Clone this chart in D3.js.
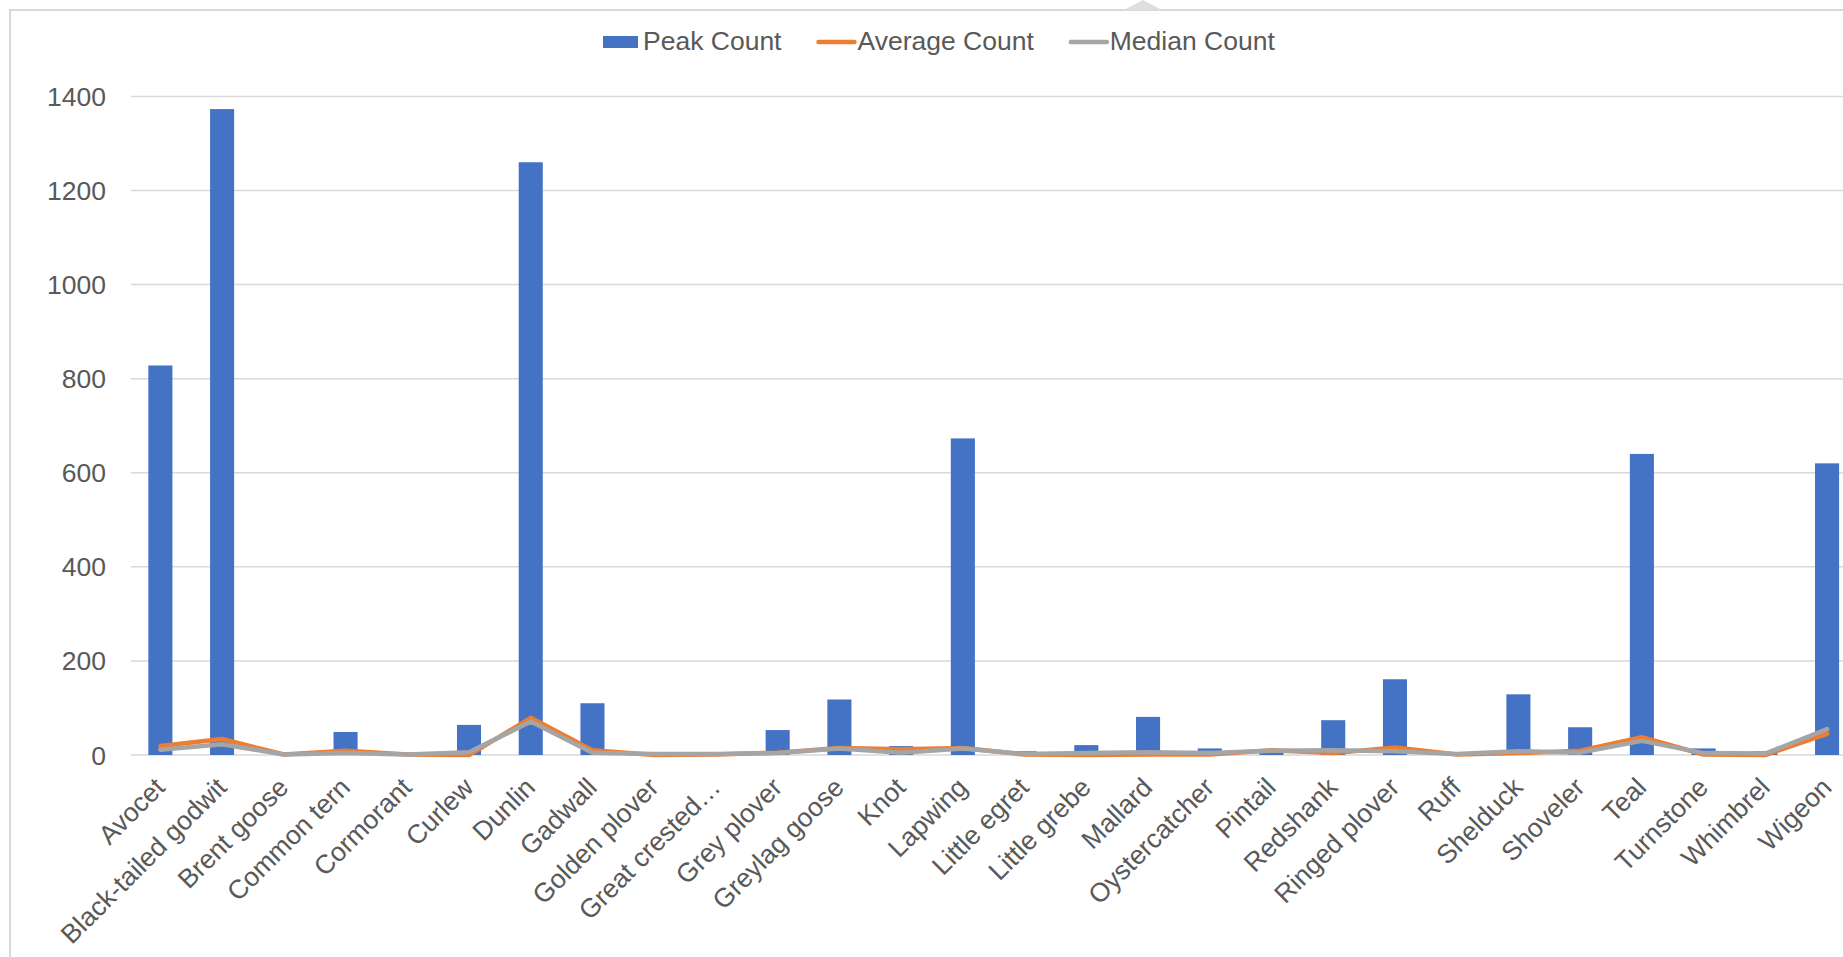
<!DOCTYPE html>
<html>
<head>
    <title>Bird counts</title>
    <script src="https://cdn.jsdelivr.net/npm/d3@7"></script>
    <style>
        body { margin: 0; background: #fff; overflow: hidden; }
        text { font-family: "Liberation Sans", Arial, sans-serif; fill: #595959; }
    </style>
</head>
<body>
    <div id="chart"></div>

    <script>
        // Chart data
        var categories = ["Avocet", "Black-tailed godwit", "Brent goose", "Common tern", "Cormorant",
            "Curlew", "Dunlin", "Gadwall", "Golden plover", "Great crested\u2026", "Grey plover",
            "Greylag goose", "Knot", "Lapwing", "Little egret", "Little grebe", "Mallard",
            "Oystercatcher", "Pintail", "Redshank", "Ringed plover", "Ruff", "Shelduck",
            "Shoveler", "Teal", "Turnstone", "Whimbrel", "Wigeon"];
        var peakCount = [828, 1373, 2, 49, 1, 64, 1260, 110, 2, 2, 53, 118, 19, 673, 8, 21, 81,
            14, 12, 74, 161, 2, 129, 59, 640, 14, 8, 620];
        var averageCount = [19, 34, 1, 9, 1, 0, 79, 10, 0, 1, 5, 15, 12, 15, 1, 0, 1,
            1, 10, 4, 16, 1, 4, 9, 38, 1, 0, 45];
        var medianCount = [11, 23, 1, 4, 1, 6, 71, 5, 2, 2, 4, 14, 5, 14, 2, 4, 6,
            4, 9, 10, 8, 2, 8, 5, 30, 4, 3, 55];
        var yTicks = [0, 200, 400, 600, 800, 1000, 1200, 1400];
        var seriesNames = ["Peak Count", "Average Count", "Median Count"];

        var width = 1843, height = 957;
        var fontSize = 26.5;

        var svg = d3.select("#chart").append("svg")
            .attr("width", width)
            .attr("height", height);

        // frame of the chart area (right and bottom edges are off screen)
        svg.append("path")
            .attr("d", "M10,957 V10 H1843")
            .attr("fill", "none")
            .attr("stroke", "#d9d9d9")
            .attr("stroke-width", 2);
        svg.append("path")
            .attr("d", "M1124,10 L1143,0 L1162,10 Z")
            .attr("fill", "#dedede");

        var plotLeft = 129.5, step = 61.73;
        var x = d3.scaleBand()
            .domain(categories)
            .range([plotLeft, plotLeft + step * categories.length])
            .paddingInner(0.61)
            .paddingOuter(0.305);

        var y = d3.scaleLinear()
            .domain([0, 1400])
            .range([755, 96.4]);

        // gridlines
        svg.append("g")
            .selectAll("line")
            .data(yTicks)
            .enter().append("line")
            .attr("x1", 131)
            .attr("x2", width)
            .attr("y1", d => y(d))
            .attr("y2", d => y(d))
            .attr("stroke", "#d9d9d9")
            .attr("stroke-width", 1.5);

        // y axis labels
        svg.append("g")
            .selectAll("text")
            .data(yTicks)
            .enter().append("text")
            .attr("x", 106)
            .attr("y", d => y(d))
            .attr("dy", "0.36em")
            .attr("text-anchor", "end")
            .style("font-size", fontSize + "px")
            .text(d => d);

        // bars
        svg.append("g")
            .selectAll("rect")
            .data(peakCount)
            .enter().append("rect")
            .attr("x", (d, i) => x(categories[i]))
            .attr("width", x.bandwidth())
            .attr("y", d => y(d))
            .attr("height", d => y(0) - y(d))
            .attr("fill", "#4472c4");

        var cx = d => x(d) + x.bandwidth() / 2;

        var line = d3.line()
            .x((d, i) => cx(categories[i]))
            .y(d => y(d));

        svg.append("path")
            .datum(averageCount)
            .attr("d", line)
            .attr("fill", "none")
            .attr("stroke", "#ed7d31")
            .attr("stroke-width", 4.5)
            .attr("stroke-linejoin", "round")
            .attr("stroke-linecap", "round");

        svg.append("path")
            .datum(medianCount)
            .attr("d", line)
            .attr("fill", "none")
            .attr("stroke", "#a5a5a5")
            .attr("stroke-width", 4.5)
            .attr("stroke-linejoin", "round")
            .attr("stroke-linecap", "round");

        // x axis labels, rotated
        svg.append("g")
            .selectAll("text")
            .data(categories)
            .enter().append("text")
            .attr("transform", d => "translate(" + (cx(d) + 6) + ",789) rotate(-45)")
            .attr("text-anchor", "end")
            .style("font-size", fontSize + "px")
            .text(d => d);

        // legend
        var legend = svg.append("g");
        var lx = 603;
        seriesNames.forEach(function (name, i) {
            if (i === 0) {
                legend.append("rect")
                    .attr("x", lx).attr("y", 36)
                    .attr("width", 35).attr("height", 12)
                    .attr("fill", "#4472c4");
            } else {
                legend.append("line")
                    .attr("x1", lx + 1).attr("x2", lx + 37)
                    .attr("y1", 42).attr("y2", 42)
                    .attr("stroke", i === 1 ? "#ed7d31" : "#a5a5a5")
                    .attr("stroke-width", 4.5)
                    .attr("stroke-linecap", "round");
            }
            var t = legend.append("text")
                .attr("x", lx + 40)
                .attr("y", 50)
                .style("font-size", fontSize + "px")
                .text(name);
            lx += 40 + t.node().getComputedTextLength() + 36;
        });
    </script>
</body>
</html>
